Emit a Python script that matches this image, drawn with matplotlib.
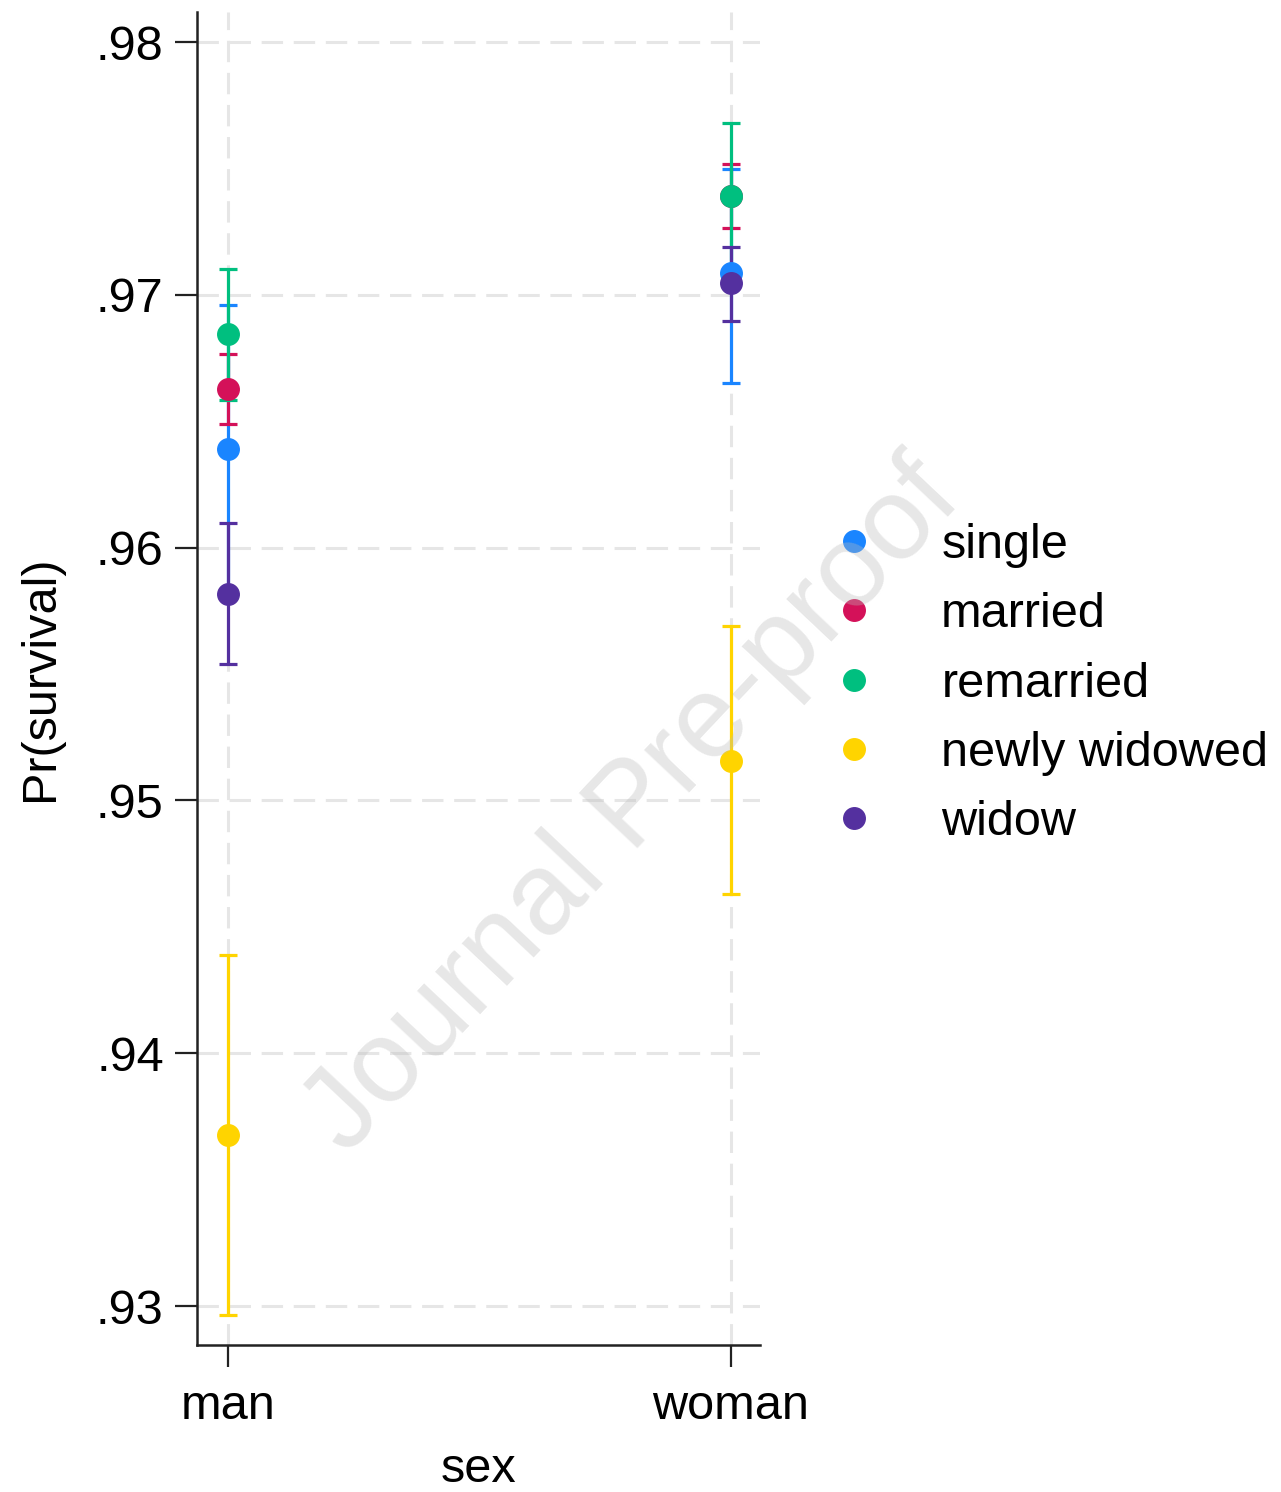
import numpy as np
import matplotlib
matplotlib.use("Agg")
import matplotlib.pyplot as plt
from matplotlib.ticker import FuncFormatter

plt.rcParams['font.family'] = ['Liberation Sans', 'DejaVu Sans']

# data: predicted survival probability with 95% CI, by sex and marital status
sexes = ['man', 'woman']
groups = ['single', 'married', 'remarried', 'newly widowed', 'widow']
colors = ['#1a85ff', '#d41159', '#00bf7f', '#ffd400', '#54309f']

estimate = {
    'single':        [0.96390, 0.97085],
    'married':       [0.96626, 0.97390],
    'remarried':     [0.96845, 0.97391],
    'newly widowed': [0.93676, 0.95156],
    'widow':         [0.95816, 0.97045],
}
lower = {
    'single':        [0.95816, 0.96652],
    'married':       [0.96488, 0.97265],
    'remarried':     [0.96584, 0.97102],
    'newly widowed': [0.92964, 0.94630],
    'widow':         [0.95540, 0.96898],
}
upper = {
    'single':        [0.96960, 0.97498],
    'married':       [0.96765, 0.97516],
    'remarried':     [0.97102, 0.97681],
    'newly widowed': [0.94388, 0.95690],
    'widow':         [0.96097, 0.97190],
}

fig = plt.figure(figsize=(12.81, 14.92), dpi=100)
ax = fig.add_axes([0.1538, 0.0985, 0.4395, 0.8935])

x = np.arange(len(sexes))
for g, c in zip(groups, colors):
    est = np.array(estimate[g])
    err = np.vstack([est - np.array(lower[g]), np.array(upper[g]) - est])
    ax.errorbar(x, est, yerr=err, fmt='none', ecolor=c, elinewidth=2.3,
                capsize=6.8, capthick=2.3, zorder=3)
    ax.plot(x, est, 'o', color=c, markersize=15.5, label=g, zorder=4,
            linestyle='none')

ax.set_xlim(-0.0616, 1.058)
ax.set_ylim(0.92846, 0.98119)
ax.set_xticks(x)
ax.set_xticklabels(sexes)
ax.set_yticks([0.93, 0.94, 0.95, 0.96, 0.97, 0.98])
ax.yaxis.set_major_formatter(FuncFormatter(lambda v, p: ('%.2f' % v).lstrip('0')))

ax.grid(True, color='#e6e6e6', linestyle=(0, (7, 3.5)), linewidth=2.2, zorder=0)
ax.set_axisbelow(True)
for s in ['top', 'right']:
    ax.spines[s].set_visible(False)
for s in ['left', 'bottom']:
    ax.spines[s].set_linewidth(1.8)
    ax.spines[s].set_color('#222222')
ax.tick_params(axis='both', length=16, width=1.6, color='#222222',
               labelsize=35, direction='out')
ax.tick_params(axis='y', pad=8)
ax.tick_params(axis='x', pad=12)

ax.set_ylabel('Pr(survival)', fontsize=35, labelpad=24)
ax.set_xlabel('sex', fontsize=35, labelpad=13)

leg = ax.legend(loc='center left', bbox_to_anchor=(0.6475, 0.5415),
                bbox_transform=fig.transFigure, frameon=False, fontsize=35,
                handlelength=1.0, handletextpad=1.3, labelspacing=0.50,
                borderaxespad=0, borderpad=0)

fig.text(0.494, 0.4584, 'Journal Pre-proof', fontsize=84, color='#bbbbbb',
         alpha=0.35, rotation=46.7, ha='center', va='center', zorder=10)

fig.savefig('out.png', dpi=100)
